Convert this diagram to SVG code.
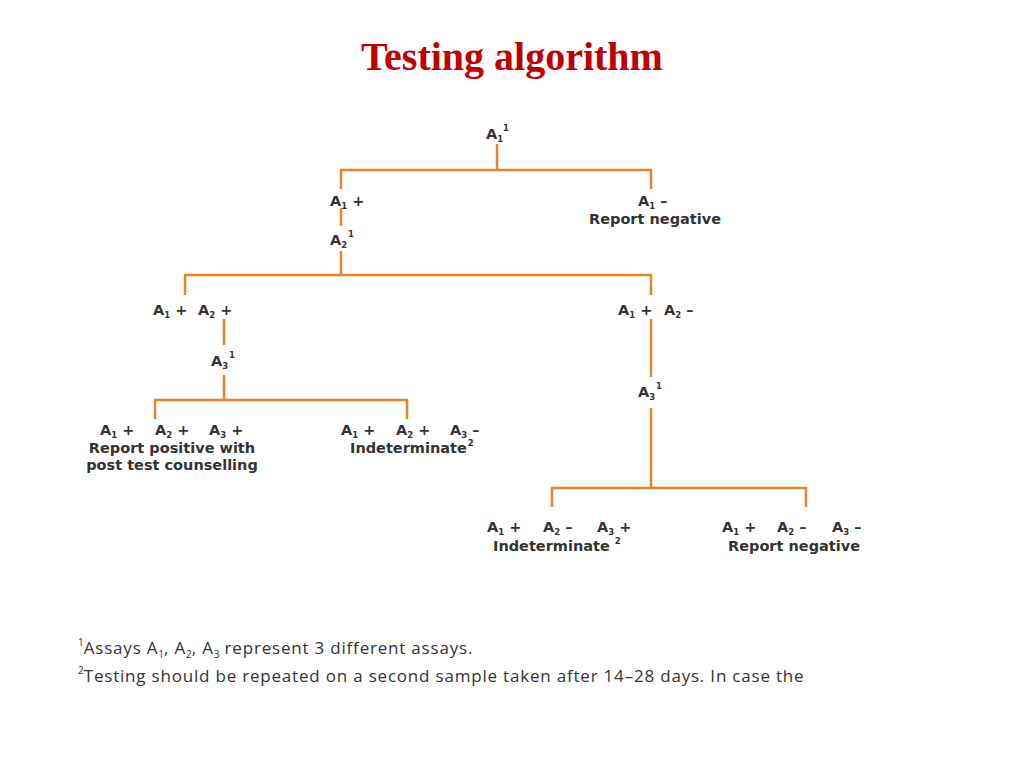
<svg xmlns="http://www.w3.org/2000/svg" width="1024" height="768" viewBox="0 0 1024 768" xml:space="preserve">
<style>
.title{font-family:"Liberation Serif",serif;font-weight:bold;font-size:40px;fill:#C00000}
.t{font-family:"DejaVu Sans","Liberation Sans",sans-serif;font-weight:bold;font-size:14.5px;fill:#333}
.s{font-size:8.5px}
.fn{font-family:"Open Sans","Liberation Sans",sans-serif;font-size:17px;letter-spacing:0.8px;fill:#333}
.fs{font-size:10px;letter-spacing:0}
.c line{stroke:#E8822A;stroke-width:2.5;fill:none}
</style>
<rect width="1024" height="768" fill="#fff"/>
<text class="title" x="512" y="70" text-anchor="middle">Testing algorithm</text>
<g class="c" id="connectors">
<line x1="497" y1="144" x2="497" y2="171"/>
<line x1="340" y1="170" x2="652" y2="170"/>
<line x1="341" y1="169" x2="341" y2="189"/>
<line x1="651" y1="169" x2="651" y2="189"/>
<line x1="341" y1="208" x2="341" y2="226"/>
<line x1="341" y1="251" x2="341" y2="276"/>
<line x1="184" y1="275" x2="652" y2="275"/>
<line x1="185" y1="274" x2="185" y2="295"/>
<line x1="651" y1="274" x2="651" y2="295"/>
<line x1="224" y1="319" x2="224" y2="345"/>
<line x1="224" y1="375" x2="224" y2="401"/>
<line x1="154" y1="400" x2="408" y2="400"/>
<line x1="155" y1="399" x2="155" y2="419"/>
<line x1="407" y1="399" x2="407" y2="419"/>
<line x1="651" y1="319" x2="651" y2="377"/>
<line x1="651" y1="408" x2="651" y2="489"/>
<line x1="551" y1="488" x2="807" y2="488"/>
<line x1="552" y1="487" x2="552" y2="507"/>
<line x1="806" y1="487" x2="806" y2="507"/>
</g>
<g id="root"><text class="t" y="139"><tspan x="486">A</tspan><tspan class="s" y="142">1</tspan><tspan class="s" x="503" y="131">1</tspan></text></g>
<g id="a1pos"><text class="t" y="206"><tspan x="330">A</tspan><tspan class="s" y="209">1</tspan><tspan y="206"> +</tspan></text></g>
<g id="a1neg"><text class="t" y="206"><tspan x="638">A</tspan><tspan class="s" y="209">1</tspan><tspan y="206"> –</tspan></text>
<text class="t" x="655" y="224" text-anchor="middle">Report negative</text></g>
<g id="a2"><text class="t" y="245"><tspan x="330">A</tspan><tspan class="s" y="248">2</tspan><tspan class="s" x="348" y="237">1</tspan></text></g>
<g id="a1pa2p"><text class="t" y="315"><tspan x="153">A</tspan><tspan class="s" y="318">1</tspan><tspan y="315"> +</tspan><tspan x="198">A</tspan><tspan class="s" y="318">2</tspan><tspan y="315"> +</tspan></text></g>
<g id="a1pa2n"><text class="t" y="315"><tspan x="618">A</tspan><tspan class="s" y="318">1</tspan><tspan y="315"> +</tspan><tspan x="664">A</tspan><tspan class="s" y="318">2</tspan><tspan y="315"> –</tspan></text></g>
<g id="a3left"><text class="t" y="366"><tspan x="211">A</tspan><tspan class="s" y="369">3</tspan><tspan class="s" x="229" y="358">1</tspan></text></g>
<g id="a3right"><text class="t" y="397"><tspan x="638">A</tspan><tspan class="s" y="400">3</tspan><tspan class="s" x="656" y="389">1</tspan></text></g>
<g id="pos"><text class="t" y="435"><tspan x="100">A</tspan><tspan class="s" y="438">1</tspan><tspan y="435"> +</tspan><tspan x="155">A</tspan><tspan class="s" y="438">2</tspan><tspan y="435"> +</tspan><tspan x="209">A</tspan><tspan class="s" y="438">3</tspan><tspan y="435"> +</tspan></text>
<text class="t" x="172" y="453" text-anchor="middle">Report positive with</text>
<text class="t" x="172" y="470" text-anchor="middle">post test counselling</text></g>
<g id="ind1"><text class="t" y="435"><tspan x="341">A</tspan><tspan class="s" y="438">1</tspan><tspan y="435"> +</tspan><tspan x="396">A</tspan><tspan class="s" y="438">2</tspan><tspan y="435"> +</tspan><tspan x="450">A</tspan><tspan class="s" y="438">3</tspan><tspan y="435"> –</tspan></text>
<text class="t" y="453"><tspan x="350">Indeterminate</tspan><tspan class="s" dx="1" y="446">2</tspan></text></g>
<g id="ind2"><text class="t" y="532"><tspan x="487">A</tspan><tspan class="s" y="535">1</tspan><tspan y="532"> +</tspan><tspan x="543">A</tspan><tspan class="s" y="535">2</tspan><tspan y="532"> –</tspan><tspan x="597">A</tspan><tspan class="s" y="535">3</tspan><tspan y="532"> +</tspan></text>
<text class="t" y="551"><tspan x="493">Indeterminate </tspan><tspan class="s" y="544">2</tspan></text></g>
<g id="neg2"><text class="t" y="532"><tspan x="722">A</tspan><tspan class="s" y="535">1</tspan><tspan y="532"> +</tspan><tspan x="777">A</tspan><tspan class="s" y="535">2</tspan><tspan y="532">  –</tspan><tspan x="832">A</tspan><tspan class="s" y="535">3</tspan><tspan y="532"> –</tspan></text>
<text class="t" x="794" y="551" text-anchor="middle">Report negative</text></g>
<g id="footnotes">
<text class="fn" y="654"><tspan class="fs" x="78" y="646">1</tspan><tspan y="654">Assays A</tspan><tspan class="fs" y="658">1</tspan><tspan y="654">, A</tspan><tspan class="fs" y="658">2</tspan><tspan y="654">, A</tspan><tspan class="fs" y="658">3</tspan><tspan y="654"> represent 3 different assays.</tspan></text>
<text class="fn" y="682"><tspan class="fs" x="78" y="674">2</tspan><tspan y="682">Testing should be repeated on a second sample taken after 14–28 days. In case the</tspan></text>
</g>
</svg>
